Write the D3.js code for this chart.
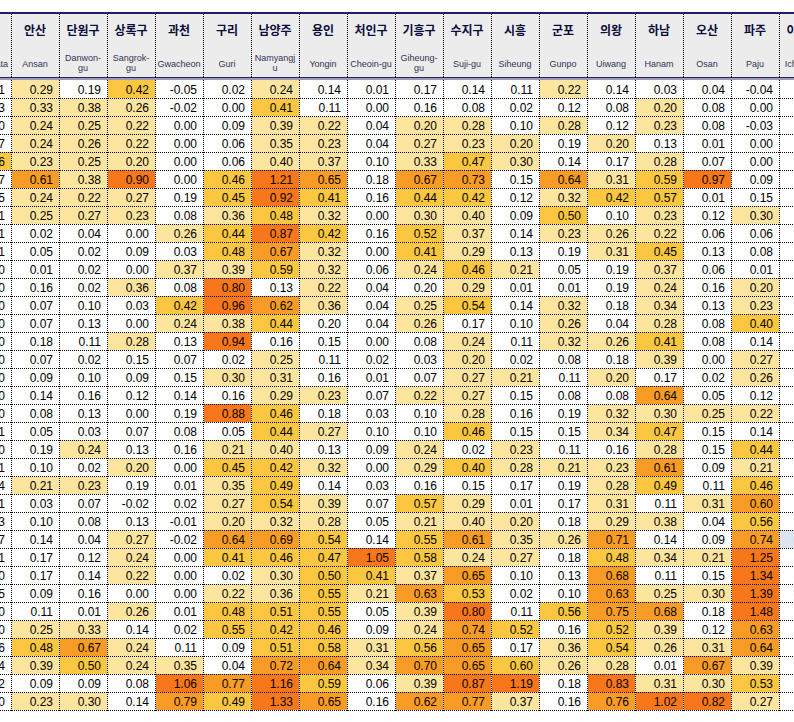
<!DOCTYPE html>
<html><head><meta charset="utf-8">
<script src="https://cdn.jsdelivr.net/npm/d3@7"></script>
<style>body{margin:0;background:#fff;} svg{display:block}</style>
</head><body><svg id="c" width="794" height="722"></svg>
<script>
// ---- DATA ----
const koLabels = ["", "안산","단원구","상록구","과천","구리","남양주","용인","처인구","기흥구","수지구","시흥","군포","의왕","하남","오산","파주","이천시"];
const enLabels = [["Data"],["Ansan"],["Danwon-","gu"],["Sangrok-","gu"],["Gwacheon"],["Guri"],["Namyangj","u"],["Yongin"],["Cheoin-gu"],["Giheung-","gu"],["Suji-gu"],["Siheung"],["Gunpo"],["Uiwang"],["Hanam"],["Osan"],["Paju"],["Icheon-si"]];

const leftCol  = [0.11,0.13,0.10,0.07,0.46,0.17,0.15,0.11,0.01,0.01,0.00,0.00,0.00,0.00,0.00,0.00,0.00,0.00,0.00,0.01,0.00,0.01,0.04,0.01,0.03,0.07,0.01,0.00,0.05,0.00,0.00,0.06,0.04,0.02,0.00];
const ansan    = [0.29,0.33,0.24,0.24,0.23,0.61,0.24,0.25,0.02,0.05,0.01,0.16,0.07,0.07,0.18,0.07,0.09,0.14,0.08,0.05,0.19,0.10,0.21,0.03,0.10,0.14,0.17,0.17,0.09,0.11,0.25,0.48,0.39,0.09,0.23];
const danwon   = [0.19,0.38,0.25,0.26,0.25,0.38,0.22,0.27,0.04,0.02,0.02,0.02,0.10,0.13,0.11,0.02,0.10,0.16,0.13,0.03,0.24,0.02,0.23,0.07,0.08,0.04,0.12,0.14,0.16,0.01,0.33,0.67,0.50,0.09,0.30];
const sangrok  = [0.42,0.26,0.22,0.22,0.20,0.90,0.27,0.23,0.00,0.09,0.00,0.36,0.03,0.00,0.28,0.15,0.09,0.12,0.00,0.07,0.13,0.20,0.19,-0.02,0.13,0.27,0.24,0.22,0.00,0.26,0.14,0.24,0.24,0.08,0.14];
const gwacheon = [-0.05,-0.02,0.00,0.00,0.00,0.00,0.19,0.08,0.26,0.03,0.37,0.08,0.42,0.24,0.13,0.07,0.15,0.14,0.19,0.08,0.16,0.00,0.01,0.02,-0.01,-0.02,0.00,0.00,0.00,0.01,0.02,0.11,0.35,1.06,0.79];
const guri     = [0.02,0.00,0.09,0.06,0.06,0.46,0.45,0.36,0.44,0.48,0.39,0.80,0.96,0.38,0.94,0.02,0.30,0.16,0.88,0.05,0.21,0.45,0.35,0.27,0.20,0.64,0.41,0.02,0.22,0.48,0.55,0.09,0.04,0.77,0.49];
const namyangju= [0.24,0.41,0.39,0.35,0.40,1.21,0.92,0.48,0.87,0.67,0.59,0.13,0.62,0.44,0.16,0.25,0.31,0.29,0.46,0.44,0.40,0.42,0.49,0.54,0.32,0.69,0.46,0.30,0.36,0.51,0.42,0.51,0.72,1.16,1.33];
const yongin   = [0.14,0.11,0.22,0.23,0.37,0.65,0.41,0.32,0.42,0.32,0.32,0.22,0.36,0.198,0.15,0.11,0.16,0.23,0.18,0.27,0.13,0.32,0.14,0.39,0.28,0.54,0.47,0.50,0.55,0.55,0.46,0.58,0.64,0.59,0.65];
const cheoin   = [0.01,0.00,0.04,0.04,0.10,0.18,0.16,0.00,0.16,0.00,0.06,0.04,0.04,0.04,0.00,0.02,0.01,0.07,0.03,0.10,0.09,0.00,0.03,0.07,0.05,0.14,1.05,0.41,0.21,0.05,0.09,0.31,0.34,0.06,0.16];
const giheung  = [0.17,0.16,0.20,0.27,0.33,0.67,0.44,0.30,0.52,0.41,0.24,0.198,0.25,0.26,0.08,0.03,0.07,0.22,0.10,0.10,0.24,0.29,0.16,0.57,0.21,0.55,0.58,0.37,0.63,0.39,0.24,0.56,0.70,0.39,0.62];
const suji     = [0.14,0.08,0.28,0.23,0.47,0.73,0.42,0.40,0.37,0.29,0.46,0.29,0.54,0.17,0.24,0.20,0.27,0.27,0.28,0.46,0.02,0.404,0.15,0.29,0.40,0.61,0.24,0.65,0.53,0.80,0.74,0.65,0.65,0.87,0.77];
const siheung  = [0.11,0.02,0.10,0.20,0.30,0.15,0.12,0.09,0.14,0.13,0.21,0.01,0.14,0.10,0.11,0.02,0.21,0.15,0.16,0.15,0.23,0.28,0.17,0.01,0.20,0.35,0.27,0.10,0.02,0.11,0.52,0.17,0.598,1.19,0.37];
const gunpo    = [0.22,0.12,0.28,0.19,0.14,0.64,0.32,0.50,0.23,0.19,0.05,0.01,0.32,0.26,0.32,0.08,0.11,0.08,0.19,0.15,0.11,0.21,0.19,0.17,0.18,0.26,0.18,0.13,0.10,0.56,0.16,0.36,0.26,0.18,0.16];
const uiwang   = [0.14,0.08,0.12,0.20,0.17,0.31,0.42,0.10,0.26,0.31,0.19,0.19,0.18,0.04,0.26,0.18,0.20,0.08,0.32,0.34,0.16,0.23,0.28,0.31,0.29,0.71,0.48,0.68,0.63,0.75,0.52,0.54,0.28,0.83,0.76];
const hanam    = [0.03,0.20,0.23,0.13,0.28,0.59,0.57,0.23,0.22,0.45,0.37,0.24,0.34,0.28,0.41,0.39,0.17,0.64,0.30,0.47,0.28,0.61,0.49,0.11,0.38,0.14,0.34,0.11,0.25,0.68,0.39,0.26,0.01,0.31,1.02];
const osan     = [0.04,0.08,0.08,0.01,0.07,0.97,0.01,0.12,0.06,0.13,0.06,0.16,0.13,0.08,0.08,0.00,0.02,0.05,0.25,0.15,0.15,0.09,0.11,0.31,0.04,0.09,0.21,0.15,0.30,0.18,0.12,0.31,0.67,0.30,0.82];
const paju     = [-0.04,0.00,-0.03,0.00,0.00,0.09,0.15,0.30,0.06,0.08,0.01,0.20,0.23,0.404,0.14,0.27,0.26,0.12,0.22,0.14,0.44,0.21,0.46,0.60,0.56,0.74,1.25,1.34,1.39,1.48,0.63,0.64,0.39,0.53,0.27];
const icheon   = [null,null,null,null,null,null,null,null,null,null,null,null,null,null,null,null,null,null,null,null,null,null,null,null,null,-0.012,null,-0.012,-0.012,null,null,null,null,null,null];

const colorBreaks = [0.199, 0.401, 0.6, 0.795];
const colorRange  = ["#ffffff", "#fde49f", "#fbc740", "#f99c25", "#f8771b"];

// ---- BUILD ----
const series = [leftCol, ansan, danwon, sangrok, gwacheon, guri, namyangju, yongin, cheoin, giheung, suji, siheung, gunpo, uiwang, hanam, osan, paju, icheon];
const nCols = series.length, nRows = ansan.length;
const W = 794, H = 722;
const svg = d3.select("#c");
const fmt = d3.formatLocale({decimal: ".", thousands: ",", grouping: [3], currency: ["", ""], minus: "-"}).format(".2f");

const x = d3.scaleBand().domain(d3.range(nCols)).range([-37, -37 + 48 * nCols]);
const y = d3.scaleBand().domain(d3.range(nRows)).range([80, 80 + 18 * nRows]);
const color = d3.scaleThreshold().domain(colorBreaks).range(colorRange);

// header
svg.append("rect").attr("x", 0).attr("y", 13).attr("width", W).attr("height", 65).attr("fill", "#ececec");
svg.append("rect").attr("x", 0).attr("y", 12).attr("width", W).attr("height", 2).attr("fill", "#1f1f66");
svg.append("rect").attr("x", 0).attr("y", 77).attr("width", W).attr("height", 1).attr("fill", "#26265e");
svg.append("rect").attr("x", 0).attr("y", 78).attr("width", W).attr("height", 2).attr("fill", "#9a9ab8");

const hdr = svg.append("g");
hdr.selectAll("text.ko").data(koLabels).join("text")
  .attr("class", "ko")
  .attr("x", (d, i) => x(i) + x.bandwidth() / 2)
  .attr("y", 35)
  .attr("text-anchor", "middle")
  .attr("font-family", "'Noto Sans CJK KR', sans-serif")
  .attr("font-weight", "bold")
  .attr("font-size", 12)
  .attr("fill", "#0c0c3c")
  .text(d => d);

enLabels.forEach((lines, i) => {
  const t = hdr.append("text")
    .attr("x", i === 0 ? 8 : x(i) + x.bandwidth() / 2)
    .attr("text-anchor", i === 0 ? "end" : "middle")
    .attr("font-family", "'Liberation Sans', Arial, sans-serif")
    .attr("font-size", 9)
    .attr("fill", "#333355");
  const base = lines.length === 1 ? 67 : 60.5;
  lines.forEach((l, j) => t.append("tspan").attr("x", i === 0 ? 8 : x(i) + x.bandwidth() / 2).attr("y", base + j * 10.5).text(l));
});

// cells
const cells = [];
series.forEach((col, c) => col.forEach((v, r) => cells.push({c, r, v})));

svg.append("g").selectAll("rect").data(cells.filter(d => d.v !== null)).join("rect")
  .attr("x", d => x(d.c) + 1)
  .attr("y", d => y(d.r))
  .attr("width", x.bandwidth() - 1)
  .attr("height", y.bandwidth())
  .attr("fill", d => d.c === nCols - 1 ? "#dbe4f1" : color(d.v))
  .attr("fill-opacity", d => (d.c === nCols - 1 && d.r !== 25) ? 0 : 1);

svg.append("g").selectAll("text").data(cells.filter(d => d.v !== null)).join("text")
  .attr("x", d => x(d.c) + x.bandwidth() - 6)
  .attr("y", d => y(d.r) + 14)
  .attr("text-anchor", "end")
  .attr("font-family", "'Liberation Sans', Arial, sans-serif")
  .attr("font-size", 12)
  .attr("fill", d => d.c === nCols - 1 ? "#6b6b3a" : "#000")
  .text(d => fmt(d.v));

// grid
const grid = svg.append("g").attr("stroke", "#000").attr("stroke-width", 1)
  .attr("stroke-dasharray", "1,1").attr("shape-rendering", "crispEdges");
d3.range(1, nCols).forEach(i => {
  const xx = Math.round(x(i)) + 0.5;
  grid.append("line").attr("x1", xx).attr("x2", xx).attr("y1", 14).attr("y2", 77);
  grid.append("line").attr("x1", xx).attr("x2", xx).attr("y1", 80).attr("y2", 711);
});
d3.range(nRows).forEach(r => {
  const yy = y(r) + y.bandwidth() + 0.5;
  grid.append("line").attr("x1", 0).attr("x2", W).attr("y1", yy).attr("y2", yy);
});
</script></body></html>
